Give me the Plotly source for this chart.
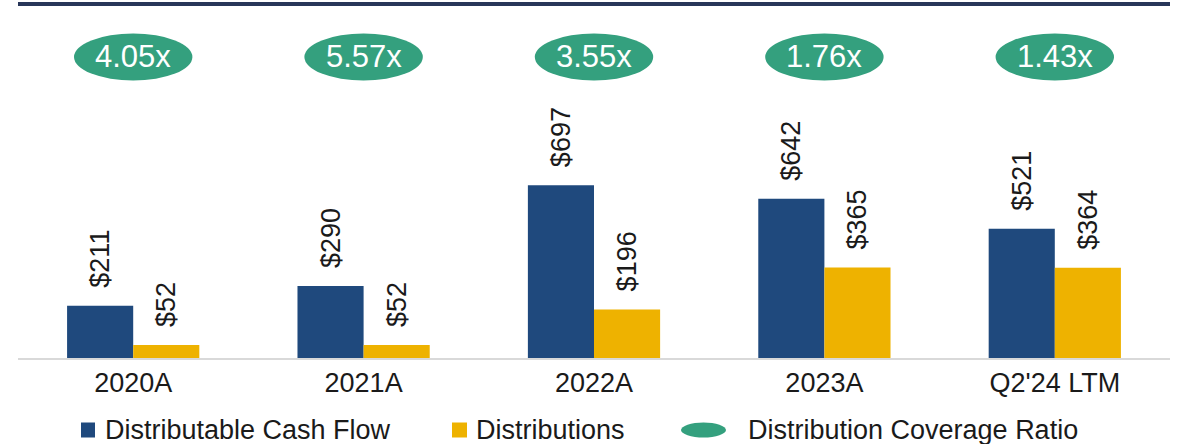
import plotly.graph_objects as go

# ─── Data ─────────────────────────────────────────────────────────────────────

periods = ["2020A", "2021A", "2022A", "2023A", "Q2'24 LTM"]
cash_flow = [211, 290, 697, 642, 521]
distributions = [52, 52, 196, 365, 364]
coverage = [4.05, 5.57, 3.55, 1.76, 1.43]

# ─── Theme ────────────────────────────────────────────────────────────────────

BLUE = "#1F497D"
GOLD = "#EEB200"
GREEN = "#34A07E"
NAVY = "#283659"
AXIS_GREY = "#D9D9D9"
TEXT = "#1A1A1A"
FONT = "Liberation Sans, Arial, sans-serif"

W, H = 1178, 444
M_L, M_R, M_T, M_B = 18, 8, 0, 86
PLOT_W = W - M_L - M_R
PLOT_H = H - M_T - M_B


def px_x(p):
    return (p - M_L) / PLOT_W


def px_y(p):
    return (H - M_B - p) / PLOT_H


def label(v):
    # leading nbsp pushes the rotated label up off the bar
    return "\u00a0\u00a0$" + str(v)


fig = go.Figure()

fig.add_trace(go.Bar(
    x=periods, y=cash_flow, name="Distributable Cash Flow",
    marker=dict(color=BLUE, line=dict(width=0)),
    text=[label(v) for v in cash_flow],
    textposition="outside", textangle=-90, constraintext="none",
    textfont=dict(family=FONT, size=27, color=TEXT),
    cliponaxis=False,
))
fig.add_trace(go.Bar(
    x=periods, y=distributions, name="Distributions",
    marker=dict(color=GOLD, line=dict(width=0)),
    text=[label(v) for v in distributions],
    textposition="outside", textangle=-90, constraintext="none",
    textfont=dict(family=FONT, size=27, color=TEXT),
    cliponaxis=False,
))

# coverage ratio ovals above each group
half_w = 0.257
oval_y = px_y(57)
oval_h = 23.5 / PLOT_H
for i, (p, r) in enumerate(zip(periods, coverage)):
    fig.add_shape(type="circle", xref="x", yref="paper",
                  x0=i - half_w, x1=i + half_w,
                  y0=oval_y - oval_h, y1=oval_y + oval_h,
                  fillcolor=GREEN, line=dict(width=0))
    fig.add_annotation(x=p, y=oval_y, xref="x", yref="paper",
                       xanchor="center", yanchor="middle",
                       text=f"{r:.2f}x", showarrow=False,
                       font=dict(family=FONT, size=31, color="white"))

# top rule
fig.add_shape(type="line", xref="paper", yref="paper",
              x0=0, x1=1, y0=px_y(4), y1=px_y(4),
              line=dict(color=NAVY, width=4))

# ─── Custom legend ────────────────────────────────────────────────────────────

leg_y = px_y(430)
sq = 7.5 / PLOT_H
legend_items = [
    ("rect", BLUE, 81, 95, "Distributable Cash Flow", 103),
    ("rect", GOLD, 452, 467, "Distributions", 474),
    ("circle", GREEN, 681, 726, "Distribution Coverage Ratio", 746),
]
for kind, col, x0, x1, txt, tx in legend_items:
    fig.add_shape(type=kind, xref="paper", yref="paper",
                  x0=px_x(x0), x1=px_x(x1), y0=leg_y - sq, y1=leg_y + sq,
                  fillcolor=col, line=dict(width=0))
    fig.add_annotation(x=px_x(tx), y=leg_y, xref="paper", yref="paper",
                       xanchor="left", yanchor="middle", showarrow=False,
                       text=txt, font=dict(family=FONT, size=27, color=TEXT))

fig.update_layout(
    width=W, height=H,
    margin=dict(l=M_L, r=M_R, t=M_T, b=M_B),
    paper_bgcolor="white", plot_bgcolor="white",
    barmode="group", bargap=0.426, bargroupgap=0,
    showlegend=False,
    font=dict(family=FONT, color=TEXT),
    xaxis=dict(showline=True, linecolor=AXIS_GREY, linewidth=2,
               ticks="", tickfont=dict(family=FONT, size=27, color=TEXT),
               showgrid=False),
    yaxis=dict(range=[0, PLOT_H / 0.248], visible=False, showgrid=False),
)

# page body has an 8px default margin; drop it so the figure sits at 0,0
fig.write_html("out.html",
               config={"displayModeBar": False},
               post_script="document.body.style.margin='0';")
